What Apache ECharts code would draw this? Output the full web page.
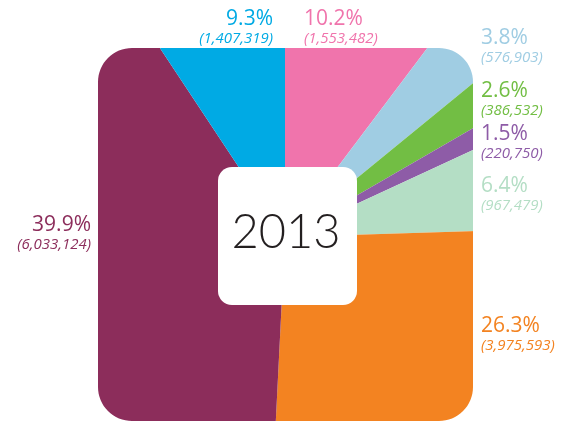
<!DOCTYPE html>
<html lang="en">
    <head>
        <meta charset="utf-8">
        <title>2013</title>
        <script src="https://cdn.jsdelivr.net/npm/echarts@6/dist/echarts.min.js"></script>
        <style>
            body { margin: 0; background: #fff; }
        </style>
    </head>
    <body>
        <div id="main" style="width: 565px;height: 422px;"></div>

        <script type="text/javascript">

            // slices, clockwise from 12 o'clock
            let categories = ['pink', 'lightblue', 'green', 'purple', 'palegreen', 'orange', 'maroon', 'cyan'];
            let counts = [1553482, 576903, 386532, 220750, 967479, 3975593, 6033124, 1407319];
            let percents = ['10.2%', '3.8%', '2.6%', '1.5%', '6.4%', '26.3%', '39.9%', '9.3%'];
            let countLabels = ['(1,553,482)', '(576,903)', '(386,532)', '(220,750)', '(967,479)', '(3,975,593)', '(6,033,124)', '(1,407,319)'];
            let yearLabel = '2013';

            let colors = ['#F074AC', '#A0CDE3', '#72BE44', '#8E5CA7', '#B4DEC5', '#F38321', '#8C2D5B', '#00AAE4'];

            // label anchors [x, y, align]
            let labelPos = [
                [304, 9, 'left'],
                [481, 28, 'left'],
                [481, 81, 'left'],
                [481, 124, 'left'],
                [481, 176, 'left'],
                [481, 316, 'left'],
                [91, 215, 'right'],
                [273, 9, 'right']
            ];

            // rounded frame the pie is clipped to
            let box = {l: 98, t: 48, r: 473, b: 421, rad: 34};
            let W = 565, H = 422;

            // white mask around the frame (bands + corner fillets)
            function cornerPoly(px, py, cx, cy, a0, a1) {
                let pts = [[px, py]];
                for (let k = 0; k <= 16; k++) {
                    let a = a0 + (a1 - a0) * k / 16;
                    pts.push([cx + box.rad * Math.cos(a), cy + box.rad * Math.sin(a)]);
                }
                return pts;
            }
            let maskEls = [
                {type: 'rect', shape: {x: 0, y: 0, width: W, height: box.t}},
                {type: 'rect', shape: {x: 0, y: box.b, width: W, height: H - box.b + 2}},
                {type: 'rect', shape: {x: 0, y: 0, width: box.l, height: H}},
                {type: 'rect', shape: {x: box.r, y: 0, width: W - box.r, height: H}},
                {type: 'polygon', shape: {points: cornerPoly(box.l - 0.5, box.t - 0.5, box.l + box.rad, box.t + box.rad, Math.PI, Math.PI * 1.5)}},
                {type: 'polygon', shape: {points: cornerPoly(box.r + 0.5, box.t - 0.5, box.r - box.rad, box.t + box.rad, Math.PI * 1.5, Math.PI * 2)}},
                {type: 'polygon', shape: {points: cornerPoly(box.r + 0.5, box.b + 0.5, box.r - box.rad, box.b - box.rad, 0, Math.PI * 0.5)}},
                {type: 'polygon', shape: {points: cornerPoly(box.l - 0.5, box.b + 0.5, box.l + box.rad, box.b - box.rad, Math.PI * 0.5, Math.PI)}}
            ].map(el => Object.assign(el, {z: 5, silent: true, style: {fill: '#fff'}}));

            let myChart = echarts.init(document.getElementById('main'));

            let pieData = categories.map((c, i) => ({
                name: c,
                value: counts[i],
                itemStyle: {color: colors[i]}
            }));

            let labelData = categories.map((c, i) => ({
                name: c,
                value: counts[i],
                itemStyle: {color: 'rgba(0,0,0,0)'},
                label: {
                    color: colors[i],
                    formatter: '{p|' + percents[i] + '}\n{v|' + countLabels[i] + '}'
                }
            }));

            let center = [285, 237];

            let options = {
                animation: false,
                series: [
                    {
                        type: 'pie',
                        z: 1,
                        silent: true,
                        center: center,
                        radius: [0, 300],
                        startAngle: 90,
                        clockwise: true,
                        label: {show: false},
                        labelLine: {show: false},
                        itemStyle: {borderWidth: 0},
                        data: pieData
                    },
                    {
                        type: 'pie',
                        z: 10,
                        silent: true,
                        center: center,
                        radius: [0, 300],
                        startAngle: 90,
                        clockwise: true,
                        avoidLabelOverlap: false,
                        labelLine: {show: false},
                        label: {
                            show: true,
                            fontFamily: 'Open Sans',
                            rich: {
                                p: {fontSize: 21, lineHeight: 21, fontFamily: 'Open Sans'},
                                v: {fontSize: 15, lineHeight: 17, fontStyle: 'italic', fontFamily: 'Open Sans'}
                            }
                        },
                        labelLayout: function (params) {
                            let p = labelPos[params.dataIndex];
                            return {x: p[0], y: p[1], align: p[2], verticalAlign: 'top', hideOverlap: false};
                        },
                        data: labelData
                    }
                ],
                graphic: maskEls.concat([
                    {
                        type: 'rect',
                        z: 6,
                        silent: true,
                        shape: {x: 218, y: 167, width: 139, height: 138, r: 14},
                        style: {fill: '#fff'}
                    },
                    {
                        type: 'text',
                        z: 7,
                        silent: true,
                        x: 286,
                        y: 233,
                        style: {
                            text: yearLabel,
                            fill: '#231F20',
                            font: '300 47px Lato',
                            align: 'center',
                            verticalAlign: 'middle'
                        }
                    }
                ])
            };

            myChart.setOption(options);
        </script>
    </body>
</html>
